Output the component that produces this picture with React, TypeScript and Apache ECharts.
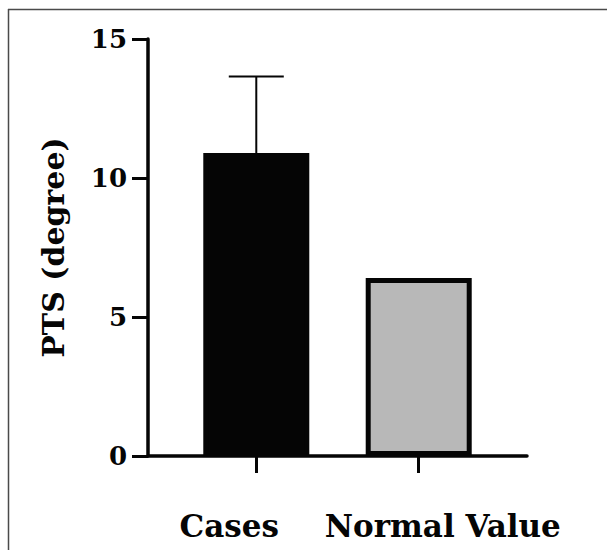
import React, { useEffect, useRef } from "react";
import * as echarts from "echarts";

const categories = ["Cases", "Normal Value"];
const means = [10.9, 6.4];
const errorUpper = [13.65, null];
const yTicks = [0, 5, 10, 15];
const barColors = ["#050505", "#b8b8b8"];
// label anchors, slightly off the tick positions as in the original
const labelPositions = [0.833, 2.148];

const FONT = "DejaVu Serif";

export default function App() {
  const ref = useRef<HTMLDivElement>(null);
  useEffect(() => {
    if (!ref.current) return;
    const chart = echarts.init(ref.current, null, { renderer: "svg" });
    const positions = categories.map((_, i) => i + 1);
    const barData = means.map((v, i) => ({
      value: [positions[i], v],
      itemStyle: { color: barColors[i], borderColor: "#050505", borderWidth: 5 },
    }));
    const errData = errorUpper
      .map((u, i) => (u == null ? null : [positions[i], means[i], u]))
      .filter((d) => d != null);
    chart.setOption({
      animation: false,
      backgroundColor: "#ffffff",
      grid: { left: 148, right: 80, top: 39, bottom: 94, containLabel: false },
      graphic: [
        { type: "line", shape: { x1: 8.5, y1: 9, x2: 8.5, y2: 550 }, style: { stroke: "#4a4a4a", lineWidth: 1.5 } },
        { type: "line", shape: { x1: 8, y1: 9.5, x2: 607, y2: 9.5 }, style: { stroke: "#4a4a4a", lineWidth: 1.5 } },
      ],
      xAxis: {
        type: "value",
        min: 1 / 3,
        max: 8 / 3,
        splitLine: { show: false },
        axisLine: { show: true, onZero: false, lineStyle: { color: "#050505", width: 3.5 } },
        axisTick: { show: true, customValues: positions, length: 17, lineStyle: { color: "#050505", width: 3 } },
        axisLabel: {
          customValues: labelPositions,
          formatter: (v: number) => {
            let best = 0;
            labelPositions.forEach((p, i) => {
              if (Math.abs(p - v) < Math.abs(labelPositions[best] - v)) best = i;
            });
            return categories[best];
          },
          margin: 54,
          fontFamily: FONT,
          fontWeight: "bold",
          fontSize: 31,
          color: "#050505",
        },
      },
      yAxis: {
        type: "value",
        min: 0,
        max: 15,
        interval: 5,
        name: "PTS (degree)",
        nameLocation: "middle",
        nameGap: 80,
        nameRotate: 90,
        nameTextStyle: { fontFamily: FONT, fontWeight: "bold", fontSize: 30, color: "#050505" },
        splitLine: { show: false },
        axisLine: { show: true, lineStyle: { color: "#050505", width: 3.5 } },
        axisTick: { show: true, length: 16, lineStyle: { color: "#050505", width: 3 } },
        axisLabel: {
          margin: 21,
          fontFamily: FONT,
          fontWeight: "bold",
          fontSize: 26,
          color: "#050505",
          formatter: (v: number) => (yTicks.includes(v) ? String(v) : ""),
        },
      },
      series: [
        {
          type: "bar",
          data: barData,
          barWidth: 106,
          z: 2,
        },
        {
          type: "custom",
          data: errData,
          z: 1,
          renderItem: (params: any, api: any) => {
            const x = api.value(0);
            const base = api.coord([x, api.value(1)]);
            const top = api.coord([x, api.value(2)]);
            const half = 27.5;
            const style = { stroke: "#050505", lineWidth: 2 };
            return {
              type: "group",
              children: [
                { type: "line", shape: { x1: base[0], y1: base[1], x2: top[0], y2: top[1] }, style },
                { type: "line", shape: { x1: top[0] - half, y1: top[1], x2: top[0] + half, y2: top[1] }, style },
              ],
            };
          },
        },
      ],
    });
    return () => chart.dispose();
  }, []);
  return (
    <div
      ref={ref}
      style={{ position: "absolute", left: 0, top: 0, width: 607, height: 550 }}
    />
  );
}
